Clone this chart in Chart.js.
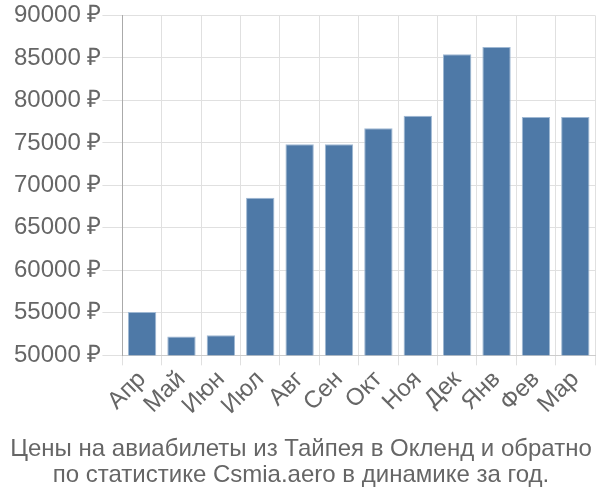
<!DOCTYPE html>
<html>
<head>
<meta charset="utf-8">
<script src="https://cdn.jsdelivr.net/npm/chart.js@4/dist/chart.umd.min.js"></script>
<style>
html,body{margin:0;padding:0;background:#fff;}
#wrap{width:600px;height:500px;}
</style>
</head>
<body>
<div id="wrap"><canvas id="c" width="600" height="500"></canvas></div>
<script>
const categories = ["Апр","Май","Июн","Июл","Авг","Сен","Окт","Ноя","Дек","Янв","Фев","Мар"];
const prices = [55100, 52230, 52350, 68530, 74830, 74830, 76710, 78190, 85430, 86280, 78040, 78040];
const yTickMin = 50000;
const yTickMax = 90000;
const yTickStep = 5000;
const currency = "₽";
const titleLines = ["Цены на авиабилеты из Тайпея в Окленд и обратно", "по статистике Csmia.aero в динамике за год."];

Chart.defaults.font.family = '"Liberation Sans", Arial, sans-serif';
Chart.defaults.color = '#666';

new Chart(document.getElementById('c'), {
  type: 'bar',
  data: {
    labels: categories,
    datasets: [{
      data: prices,
      backgroundColor: '#4e79a7',
      borderColor: '#9fb8d3',
      borderWidth: 1
    }]
  },
  options: {
    responsive: false,
    animation: false,
    layout: {padding: {left: 7, right: 5, top: 2, bottom: 0}},
    plugins: {
      legend: {display: false},
      tooltip: {enabled: false},
      title: {
        display: true,
        position: 'bottom',
        text: titleLines,
        color: '#666',
        font: {size: 24, weight: 'normal', lineHeight: 1.08},
        padding: {top: 16, bottom: 12}
      }
    },
    scales: {
      x: {
        grid: {color: '#e0e0e0', lineWidth: 1, tickLength: 10, offset: true},
        border: {color: '#ccc'},
        ticks: {font: {size: 24}, minRotation: 45, maxRotation: 45, padding: 0, autoSkip: false}
      },
      y: {
        min: yTickMin,
        max: yTickMax,
        afterFit: axis => { axis.width += 6; },
        grid: {color: '#e0e0e0', lineWidth: 1, tickLength: 20},
        border: {color: '#aaa'},
        ticks: {
          stepSize: yTickStep,
          font: {size: 24},
          padding: 1,
          callback: v => v + ' ' + currency
        }
      }
    }
  }
});
</script>
</body>
</html>
